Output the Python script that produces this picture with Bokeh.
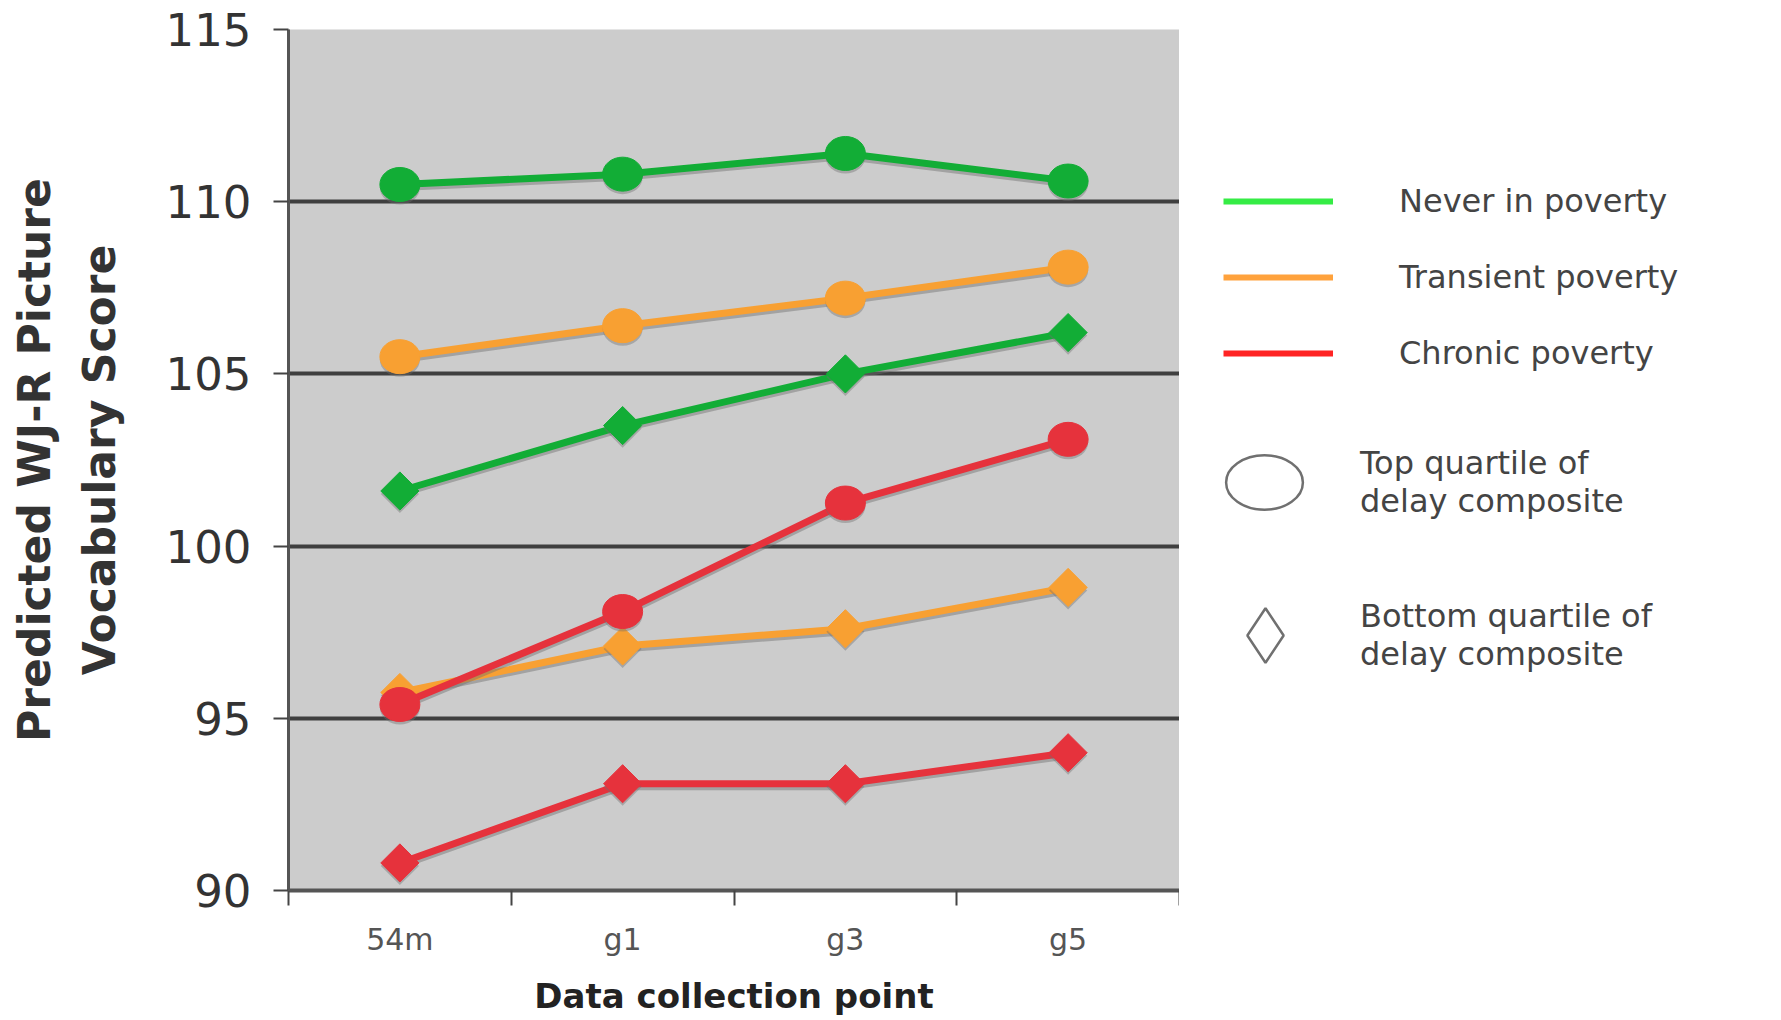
import math
from bokeh.plotting import figure
from bokeh.layouts import row
from bokeh.models import FixedTicker, Legend, LegendItem, Range1d
from bokeh.embed import file_html
from bokeh.resources import INLINE

# ---- data ----
categories = ["54m", "g1", "g3", "g5"]
y_ticks = [90, 95, 100, 105, 110, 115]

never_top = [110.5, 110.8, 111.4, 110.6]
transient_top = [105.5, 106.4, 107.2, 108.1]
never_bottom = [101.6, 103.5, 105.0, 106.2]
transient_bottom = [95.75, 97.1, 97.6, 98.8]
chronic_top = [95.4, 98.1, 101.25, 103.1]
chronic_bottom = [90.8, 93.1, 93.1, 94.0]

legend_lines = ["Never in poverty", "Transient poverty", "Chronic poverty"]
legend_top = "Top quartile of\ndelay composite"
legend_bottom = "Bottom quartile of\ndelay composite"

GREEN = "#12ad36"
ORANGE = "#f8a032"
RED = "#e6323c"
LEG_GREEN = "#35ec45"
LEG_ORANGE = "#ffa23c"
LEG_RED = "#ff2424"
SHADOW = "#6e6e6e"

H = 1018
TOP = 29
FH = 861
BOT = H - TOP - FH
NAN = float("nan")
Y0, Y1 = 90, 115
shadow_shift = 3.0 * (Y1 - Y0) / FH   # ~3 px drop shadow

x_pos = [i + 0.5 for i in range(len(categories))]
x_bounds = list(range(len(categories) + 1))

p = figure(
    frame_width=891, frame_height=FH,
    min_border_left=288, min_border_top=TOP, min_border_right=0, min_border_bottom=BOT,
    x_range=Range1d(0, len(categories)), y_range=Range1d(Y0, Y1),
    output_backend="svg", toolbar_location=None,
    background_fill_color="#cccccc", border_fill_color="white",
    outline_line_color=None,
)
p.extra_y_ranges = {"shadow": Range1d(Y0 + shadow_shift, Y1 + shadow_shift)}

# axes
p.xaxis.ticker = FixedTicker(ticks=x_pos, minor_ticks=x_bounds)
p.xaxis.major_label_overrides = {x: c for x, c in zip(x_pos, categories)}
p.xaxis.major_tick_line_color = None
p.xaxis.major_tick_out = 0
p.xaxis.major_tick_in = 0
p.xaxis.minor_tick_out = 15
p.xaxis.minor_tick_in = 0
p.xaxis.minor_tick_line_color = "#444444"
p.xaxis.minor_tick_line_width = 2
p.xaxis.axis_line_color = "#555555"
p.xaxis.axis_line_width = 4
p.xaxis.major_label_text_font = "DejaVu Sans"
p.xaxis.major_label_text_font_size = "30px"
p.xaxis.major_label_text_color = "#555555"
p.xaxis.major_label_standoff = 16
p.xaxis.axis_label = "Data collection point"
p.xaxis.axis_label_text_font = "DejaVu Sans"
p.xaxis.axis_label_text_font_style = "bold"
p.xaxis.axis_label_text_font_size = "34px"
p.xaxis.axis_label_text_color = "#222222"
p.xaxis.axis_label_standoff = 16

p.yaxis.ticker = FixedTicker(ticks=y_ticks)
p.yaxis.major_tick_out = 15
p.yaxis.major_tick_in = 0
p.yaxis.major_tick_line_color = "#444444"
p.yaxis.major_tick_line_width = 2
p.yaxis.minor_tick_line_color = None
p.yaxis.axis_line_color = "#555555"
p.yaxis.axis_line_width = 3
p.yaxis.major_label_text_font = "DejaVu Sans"
p.yaxis.major_label_text_font_size = "45px"
p.yaxis.major_label_text_color = "#333333"
p.yaxis.major_label_standoff = 22
p.yaxis.axis_label = "Predicted WJ-R Picture\nVocabulary Score"
p.yaxis.axis_label_text_font = "DejaVu Sans"
p.yaxis.axis_label_text_font_style = "bold"
p.yaxis.axis_label_text_font_size = "44px"
p.yaxis.axis_label_text_color = "#333333"
p.yaxis.axis_label_text_line_height = 1.27
p.yaxis.axis_label_standoff = 38

p.xgrid.visible = False
p.ygrid.grid_line_color = "#3f3f3f"
p.ygrid.grid_line_width = 4

# series
series = [
    (never_top, GREEN, "circle"),
    (transient_top, ORANGE, "circle"),
    (never_bottom, GREEN, "diamond"),
    (transient_bottom, ORANGE, "diamond"),
    (chronic_top, RED, "circle"),
    (chronic_bottom, RED, "diamond"),
]
for vals, color, mk in series:
    # soft drop shadow (same data on a slightly shifted scale)
    p.line(x_pos, vals, line_color=SHADOW, line_alpha=0.45, line_width=7,
           y_range_name="shadow")
    p.line(x_pos, vals, line_color=color, line_width=7)
    if mk == "circle":
        p.ellipse(x_pos, vals, width=40, height=34, width_units="screen",
                  height_units="screen", fill_color=SHADOW, fill_alpha=0.4,
                  line_color=None, y_range_name="shadow")
        p.ellipse(x_pos, vals, width=40, height=34, width_units="screen",
                  height_units="screen", fill_color=color, line_color=color)
    else:
        p.scatter(x_pos, vals, marker="square", angle=math.pi / 4, size=27,
                  fill_color=SHADOW, fill_alpha=0.4, line_color=None,
                  y_range_name="shadow")
        p.scatter(x_pos, vals, marker="square", angle=math.pi / 4, size=27,
                  fill_color=color, line_color=color)

# ---- legend panel ----
lg = figure(frame_width=600, frame_height=FH, x_range=Range1d(0, 1), y_range=Range1d(0, 1),
            x_axis_type=None, y_axis_type=None,
            min_border_left=0, min_border_right=0, min_border_top=TOP, min_border_bottom=BOT,
            output_backend="svg", toolbar_location=None,
            outline_line_color=None, background_fill_color="white",
            border_fill_color="white")

r_never = lg.line([NAN], [NAN], line_color=LEG_GREEN, line_width=6)
r_trans = lg.line([NAN], [NAN], line_color=LEG_ORANGE, line_width=6)
r_chron = lg.line([NAN], [NAN], line_color=LEG_RED, line_width=6)
r_top = lg.ellipse([NAN], [NAN], width=76, height=54, width_units="screen",
                   height_units="screen", fill_color=None,
                   line_color="#707070", line_width=2.5)
r_bot = lg.scatter([NAN], [NAN], marker="diamond", fill_color=None,
                   line_color="#707070", line_width=2.5)

common = dict(padding=0, margin=0, border_line_color=None, background_fill_alpha=0,
              label_text_font="DejaVu Sans", label_text_font_size="32px",
              label_text_color="#444444", label_text_line_height=1.2)

leg1 = Legend(items=[LegendItem(label=legend_lines[0], renderers=[r_never]),
                     LegendItem(label=legend_lines[1], renderers=[r_trans]),
                     LegendItem(label=legend_lines[2], renderers=[r_chron])],
              location=(44, 517), glyph_width=110, glyph_height=40, label_height=40,
              spacing=36, label_standoff=66, **common)
leg2 = Legend(items=[LegendItem(label=legend_top, renderers=[r_top])],
              location=(37, 360), glyph_width=96, glyph_height=96, label_height=40,
              label_standoff=48, **common)
leg3 = Legend(items=[LegendItem(label=legend_bottom, renderers=[r_bot])],
              location=(18, 187), glyph_width=136, glyph_height=136, label_height=40,
              label_standoff=27, **common)
for l in (leg1, leg2, leg3):
    lg.add_layout(l)

layout = row(p, lg)
open("out.html", "w").write(file_html(layout, INLINE))
